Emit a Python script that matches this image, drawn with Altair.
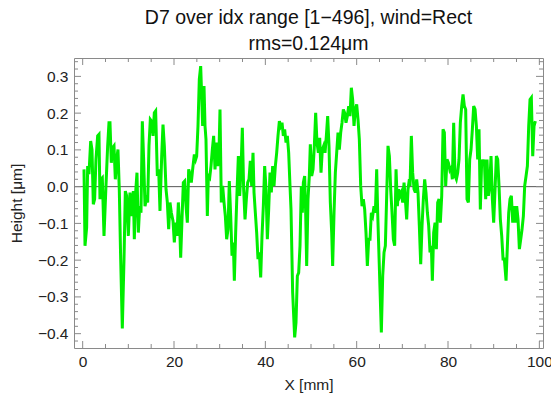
import altair as alt
import pandas as pd

# ---- data (X in mm, height in µm) ----
x_seg1 = [0.29,0.51,0.87,1.09,1.38,1.75,2.04,2.33,2.62,2.91,
          3.28,3.57,3.79,4.01,4.30,4.67,5.10,5.47,5.76,5.98,
          6.27,6.56,6.86,7.15,7.44,7.73,8.02,8.32,8.68,9.05,
          9.34,9.63,10.00,10.36,10.73,11.09,11.31,11.60,11.89,12.19,
          12.48,12.77,13.06,13.35,13.65,13.94,14.23,14.52,14.81,15.11,
          15.40,15.69,15.98,16.35,16.64,16.93,17.30,17.59,17.88,18.25,
          18.54,18.83,19.12,19.41,19.78,20.07,20.36,20.65,20.95,21.24,
          21.46,21.75,22.04,22.33,22.63,22.92,23.21]
h_seg1 = [0.047,-0.161,-0.111,0.056,0.034,0.124,0.101,-0.048,-0.034,0.074,
          0.138,0.142,-0.034,0.020,0.024,-0.134,0.002,0.111,0.174,0.174,
          0.065,0.106,0.111,0.020,0.074,0.101,-0.009,-0.197,-0.386,-0.197,
          -0.012,-0.025,-0.134,-0.016,-0.080,-0.012,-0.143,-0.016,0.038,-0.125,
          -0.053,-0.071,0.178,0.074,-0.053,-0.034,-0.043,0.111,0.183,0.178,
          0.138,0.201,0.206,0.029,0.047,-0.066,0.083,0.169,0.111,-0.007,
          -0.043,-0.116,-0.043,-0.071,-0.093,-0.152,-0.098,-0.134,-0.043,-0.107,
          -0.193,-0.089,0.011,0.015,-0.053,-0.098,0.047]

x_seg2 = [23.50,23.79,24.08,24.45,24.74,24.96,25.25,25.54,25.84,26.06,
          26.27,26.57,26.79,27.00,27.30,27.52,27.81,28.10,28.39,28.68,
          28.98,29.27,29.56,29.85,30.07,30.36,30.65,30.95,31.24,31.53,
          31.82,32.11,32.41,32.70,32.99,33.21,33.50,33.79,34.09,34.38,
          34.67,34.96,35.25,35.55,35.84,36.13,36.42,36.71,37.01,37.30,
          37.52,37.81,38.10,38.39,38.69,38.98,39.27,39.56,39.85,40.15,
          40.44,40.73,41.02,41.31,41.60,41.90,42.19,42.48,42.77,43.07,
          43.36,43.65,43.94,44.23,44.53,44.82,45.11,45.40]
h_seg2 = [0.034,0.011,0.047,0.088,0.074,0.083,0.165,0.292,0.328,0.246,
          0.165,0.274,0.165,0.129,-0.080,0.029,0.024,0.056,0.101,0.138,
          0.047,0.120,0.056,0.092,0.210,-0.043,0.002,-0.043,-0.080,-0.143,
          -0.116,0.015,-0.080,-0.188,-0.152,-0.256,-0.125,-0.016,0.083,-0.025,
          0.047,0.160,-0.007,-0.089,-0.034,0.011,0.020,0.070,0.002,0.092,
          -0.016,-0.071,-0.125,-0.197,-0.179,-0.247,-0.134,-0.053,0.056,-0.007,
          -0.143,-0.062,0.038,-0.016,0.056,0.002,0.056,0.092,0.138,0.178,
          0.165,0.174,0.138,0.156,0.120,0.138,0.092,0.002]

x_seg3 = [45.62,45.98,46.42,46.71,47.01,47.30,47.59,47.88,48.10,48.32,
          48.61,48.83,49.05,49.34,49.63,49.85,50.15,50.44,50.73,51.02,
          51.31,51.61,51.90,52.19,52.48,52.77,53.07,53.36,53.65,53.94,
          54.23,54.53,54.74,55.04,55.33,55.62,55.91,56.20,56.50,56.79,
          57.08,57.37,57.66,57.96,58.25,58.54,58.83,59.12,59.42,59.71,
          60.00,60.29,60.58,60.88,61.17,61.46,61.75,62.04,62.34,62.63,
          62.92,63.21,63.50,63.80,64.09,64.38,64.60,64.82,65.11,65.40,
          65.70,65.99,66.28,66.57,66.86,67.16,67.45,67.74,68.03,68.32,
          68.62,68.91,69.20,69.49,69.78,70.08,70.37,70.66,70.95,71.24,
          71.54]
h_seg3 = [-0.062,-0.288,-0.410,-0.370,-0.243,-0.234,-0.161,0.002,-0.071,0.011,
          0.029,-0.071,-0.216,-0.034,0.029,0.115,0.029,0.047,0.111,0.201,
          0.120,0.092,0.133,0.038,0.101,0.111,0.092,0.138,0.192,0.111,
          -0.043,-0.125,-0.216,-0.071,0.038,0.092,0.147,0.101,0.147,0.174,
          0.210,0.201,0.174,0.192,0.219,0.192,0.269,0.237,0.165,0.210,
          0.224,0.183,0.129,0.002,-0.053,-0.034,-0.062,-0.125,-0.216,-0.143,
          -0.143,-0.071,-0.080,-0.053,-0.071,0.047,-0.071,-0.161,-0.279,-0.397,
          -0.243,-0.179,-0.161,-0.025,0.111,0.083,-0.007,-0.071,-0.143,-0.161,
          0.047,-0.053,-0.007,-0.025,-0.016,-0.043,0.011,-0.034,-0.089,-0.007,
          0.020]

x_seg4 = [71.68,71.97,72.26,72.56,72.85,73.14,73.43,73.72,74.02,74.31,
          74.60,74.89,75.18,75.48,75.77,76.06,76.35,76.57,76.86,77.16,
          77.45,77.74,78.03,78.32,78.62,78.91,79.20,79.49,79.78,80.08,
          80.37,80.66,80.95,81.24,81.54,81.83,82.12,82.41,82.70,83.00,
          83.29,83.58,83.87,84.16,84.46,84.75,85.04,85.33,85.62,85.92,
          86.21,86.50,86.79,87.08,87.38,87.67,87.96,88.25,88.54,88.84,
          89.13,89.42,89.71,90.00,90.30,90.59,90.88,91.17,91.46,91.76,
          92.05,92.34,92.71,93.00,93.29,93.58,93.87,94.17,94.46,94.75,
          95.04,95.33,95.63,95.92,96.21,96.50,96.79,97.09,97.38,97.67,
          97.96,98.25,98.55,98.84,99.13]
h_seg4 = [0.002,0.138,0.038,-0.007,-0.016,0.020,-0.016,-0.107,-0.211,-0.107,
          -0.034,0.020,-0.016,-0.071,-0.107,-0.179,-0.161,-0.256,-0.125,-0.098,
          -0.170,-0.043,-0.034,-0.098,-0.025,0.156,0.147,0.002,0.074,0.065,
          0.047,0.056,0.020,0.174,0.029,0.020,0.038,0.074,0.174,0.219,
          0.251,0.219,0.210,-0.034,-0.043,0.074,0.101,0.156,0.219,0.210,
          0.165,0.074,0.156,-0.062,0.074,0.056,0.074,-0.034,0.074,-0.025,
          0.002,0.083,-0.034,-0.098,-0.007,0.083,0.074,0.002,-0.089,-0.134,
          -0.197,-0.197,-0.256,-0.161,-0.071,-0.034,-0.025,-0.098,-0.053,-0.098,
          -0.053,-0.089,-0.170,-0.143,-0.116,-0.080,0.002,0.029,0.056,0.165,
          0.237,0.242,0.083,0.165,0.178]

x_major = [0, 20, 40, 60, 80, 100]
x_minor = [5, 10, 15, 25, 30, 35, 45, 50, 55, 65, 70, 75, 85, 90, 95]
y_major = [-0.4, -0.3, -0.2, -0.1, 0.0, 0.1, 0.2, 0.3]
y_minor = [-0.42, -0.38, -0.36, -0.34, -0.32, -0.28, -0.26, -0.24, -0.22,
           -0.18, -0.16, -0.14, -0.12, -0.08, -0.06, -0.04, -0.02,
           0.02, 0.04, 0.06, 0.08, 0.12, 0.14, 0.16, 0.18,
           0.22, 0.24, 0.26, 0.28, 0.32, 0.34]
zero_line = [0.0]

title_lines = ["D7 over idx range [1\u2212496], wind=Rect", "rms=0.124\u03bcm"]

# ---- build ----
df = pd.DataFrame({
    "x": x_seg1 + x_seg2 + x_seg3 + x_seg4,
    "h": h_seg1 + h_seg2 + h_seg3 + h_seg4,
})

W, H = 469, 290
FONT = "Liberation Sans"
FRAME = "#8a8a8a"

xs = alt.Scale(domain=[-1.9, 100.8], nice=False, zero=False)
ys = alt.Scale(domain=[-0.439, 0.35], nice=False, zero=False)

x_axis = alt.Axis(values=x_major, title="X [mm]", format="d",
                  labelPadding=6, titlePadding=8)
y_axis = alt.Axis(values=y_major, title="Height [\u03bcm]",
                  labelExpr="datum.value < -0.001 ? '\u2212' + format(-datum.value, '.1f') : format(abs(datum.value), '.1f')",
                  labelPadding=6, titlePadding=13)

line = alt.Chart(df).mark_line(color="#00ee00", strokeWidth=3, clip=True).encode(
    x=alt.X("x:Q", scale=xs, axis=x_axis),
    y=alt.Y("h:Q", scale=ys, axis=y_axis),
    order=alt.Order("x:Q"),
)

zero = alt.Chart(pd.DataFrame({"v": zero_line})).mark_rule(
    color="#555555", strokeWidth=1).encode(
    y=alt.Y("v:Q", scale=ys, axis=y_axis))

def xticks(vals, length):
    d = pd.DataFrame({"v": vals})
    bot = alt.Chart(d).mark_rule(color=FRAME, strokeWidth=1).encode(
        x=alt.X("v:Q", scale=xs, axis=x_axis), y=alt.value(H), y2=alt.value(H - length))
    top = alt.Chart(d).mark_rule(color=FRAME, strokeWidth=1).encode(
        x=alt.X("v:Q", scale=xs, axis=x_axis), y=alt.value(0), y2=alt.value(length))
    return [bot, top]

def yticks(vals, length):
    d = pd.DataFrame({"v": vals})
    lft = alt.Chart(d).mark_rule(color=FRAME, strokeWidth=1).encode(
        y=alt.Y("v:Q", scale=ys, axis=y_axis), x=alt.value(0), x2=alt.value(length))
    rgt = alt.Chart(d).mark_rule(color=FRAME, strokeWidth=1).encode(
        y=alt.Y("v:Q", scale=ys, axis=y_axis), x=alt.value(W), x2=alt.value(W - length))
    return [lft, rgt]

layers = [zero, line] + xticks(x_major, 7) + xticks(x_minor, 4) + yticks(y_major, 7) + yticks(y_minor, 4)

chart = alt.layer(*layers).properties(
    width=W, height=H,
    title=alt.TitleParams(text=title_lines, font=FONT, fontSize=19.5, fontWeight="normal",
                          color="#111111", lineHeight=26, offset=3, anchor="middle"),
    padding={"left": 74, "top": 58, "right": 8, "bottom": 52},
    autosize="none",
).configure_view(
    stroke=FRAME, strokeWidth=1
).configure_axis(
    ticks=False, domain=False, grid=False,
    labelFont=FONT, labelFontSize=15.5, labelColor="#222222",
    titleFont=FONT, titleFontSize=15.5, titleFontWeight="normal", titleColor="#222222",
)

chart.save("out.html", embed_options={"renderer": "svg", "actions": False})
